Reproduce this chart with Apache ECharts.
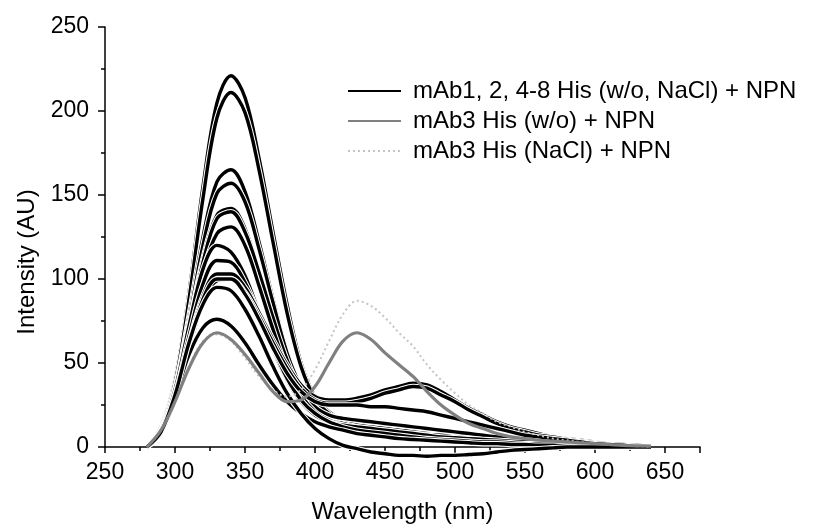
<!DOCTYPE html>
<html>
<head>
<meta charset="utf-8">
<script src="https://cdn.jsdelivr.net/npm/echarts@6/dist/echarts.min.js"></script>
<style>
html,body{margin:0;padding:0;background:#fff;}
#chart{width:818px;height:529px;}
</style>
</head>
<body>
<div id="chart"></div>
<script>
// Wavelength grid (nm)
const wavelengths = [280,290,300,310,320,330,340,350,360,370,380,390,400,410,420,430,440,450,460,470,480,490,500,510,520,530,540,550,560,570,580,590,600,610,620,630,640];

// mAb1, 2, 4-8 His (w/o, NaCl) + NPN : 14 spectra
const mAbA = [0,12,40,92,155,205,221,208,172,128,85,50,30,21,16,14,12,11,10,10,9,8,7,6,5,5,4,4,3,3,2,2,1.5,1,1,0.5,0.3];
const mAbB = [0,11,38,88,148,196,211,199,165,122,80,48,29,20,16,13,11,10,9,8.5,8,7,6,5.5,5,4,4,3,3,2,2,1.5,1,1,0.5,0.3,0.2];
const mAbC = [0,10,35,78,125,158,165,152,122,88,57,35,22,16,13,11,10,9,8,7,6.5,6,5,4.5,4,3.5,3,3,2.5,2,1.5,1,1,0.5,0.5,0.3,0.2];
const mAbD = [0,10,34,75,120,151,157,146,118,86,56,36,24,18,15,13,12,11,10,9,8,7,6.5,6,5,4.5,4,3.5,3,2.5,2,1.5,1,1,0.5,0.3,0.2];
const mAbE = [0,10,33,72,112,138,142,130,104,75,49,31,21,16,14,12,11,10,9,8,7.5,7,6,5.5,5,4.5,4,3.5,3,2.5,2,1.5,1,1,0.5,0.3,0.2];
const mAbF = [0,9,32,70,110,136,140,128,104,77,52,34,24,19,17,16,15,14,13,12,11,10,9,8,7,6,5,4.5,4,3,2.5,2,1.5,1,0.5,0.3,0.2];
const mAbG = [0,9,31,67,104,127,131,120,96,70,47,31,21,16,13,11,10,9,8,7,6,5.5,5,4.5,4,3.5,3,2.5,2,2,1.5,1,1,0.5,0.5,0.3,0.2];
const mAbH = [0,10,34,72,106,120,116,102,80,58,40,27,19,15,13,12,11,10,9,8,7,6,5.5,5,4.5,4,3.5,3,2.5,2,1.5,1,1,0.5,0.5,0.3,0.2];
const mAbI = [0,9,31,66,97,111,110,98,79,59,41,28,20,15,12,10,9,8,7,6,5,4.5,4,3.5,3,3,2.5,2,2,1.5,1,1,0.5,0.5,0.3,0.2,0.1];
const mAbJ = [0,9,30,62,90,103,103,95,80,64,49,37,30,28,28,29,31,34,36,38,37,33,28,23,19,15,12,10,8,6,5,4,3,2,1.5,1,0.5];
const mAbK = [0,8,28,58,86,99,100,92,78,62,47,35,28,26,26,27,29,32,34,36,35,31,27,22,18,14,11,9,7,6,4.5,3.5,2.5,2,1.5,1,0.5];
const mAbL = [0,8,29,60,88,100,100,91,76,59,44,33,27,25,25,25,24,24,23,22,21,19,17,15,13,11,9,7,6,5,4,3,2,1.5,1,0.5,0.3];
const mAbM = [0,9,30,55,71,76,72,62,49,37,27,20,15,12,10,8,7,6,5,4.5,4,3.5,3,2.5,2,2,1.5,1.5,1,1,0.5,0.5,0.3,0.2,0.1,0.1,0];
const mAbN = [0,9,31,62,85,95,93,82,66,48,32,20,11,5,1,-1,-3,-4,-5,-5,-5.5,-5,-5,-4.5,-4,-3,-2,-1.5,-1,-0.5,0,0,0,0,0,0,0];
const blackCurves = [mAbA,mAbB,mAbC,mAbD,mAbE,mAbF,mAbG,mAbH,mAbI,mAbJ,mAbK,mAbL,mAbM,mAbN];

// mAb3 His (w/o) + NPN
const mAb3Wo = [0,10,27,47,62,68,64,55,44,33,27,28,36,50,63,68,64,56,49,42,33,25,19,14,11,8,6,5,4,3.5,3,2.5,2,1.5,1,0.7,0.5];
// mAb3 His (NaCl) + NPN
const mAb3NaCl = [0,10,27,48,63,67,63,53,42,34,30,34,46,63,79,87,84,77,68,60,49,40,32,25,20,15,12,9,7,5,4,3,2,1.5,1,0.5,0.3];

const legendNames = ['mAb1, 2, 4-8 His (w/o, NaCl) + NPN', 'mAb3 His (w/o) + NPN', 'mAb3 His (NaCl) + NPN'];

function pairs(arr){ return wavelengths.map((w,i)=>[w,arr[i]]); }

const FONT = '"Liberation Sans", Arial, sans-serif';
const series = [];
blackCurves.forEach((c,i)=>{
  series.push({type:'line', name:'_under'+i, data:pairs(c), symbol:'none', smooth:0.35, clip:false, silent:true,
    lineStyle:{color:'#ffffff', width:5.5}, z:2});
  series.push({type:'line', name:legendNames[0], data:pairs(c), symbol:'none', smooth:0.35, clip:false,
    lineStyle:{color:'#000000', width:3.4}, itemStyle:{color:'#000000'}, z:2});
});
series.push({type:'line', name:legendNames[2], data:pairs(mAb3NaCl), symbol:'none', smooth:0.35,
  lineStyle:{color:'#c4c4c4', width:2, type:[2,3]}, itemStyle:{color:'#c4c4c4'}, z:3});
series.push({type:'line', name:legendNames[1], data:pairs(mAb3Wo), symbol:'none', smooth:0.35,
  lineStyle:{color:'#808080', width:3.2}, itemStyle:{color:'#808080'}, z:3});

const chart = echarts.init(document.getElementById('chart'), null, {renderer:'canvas'});
chart.setOption({
  animation:false,
  backgroundColor:'#ffffff',
  textStyle:{fontFamily:FONT},
  grid:{left:105, right:118, top:27, bottom:81},
  legend:{
    data:legendNames, orient:'vertical', left:347, top:79, padding:0,
    itemWidth:53, itemHeight:14, itemGap:6,
    itemStyle:{opacity:0},
    textStyle:{fontFamily:FONT, fontSize:24, color:'#000', lineHeight:22, padding:[0,0,0,7]}
  },
  xAxis:{
    type:'value', min:250, max:675, interval:50,
    name:'Wavelength (nm)', nameLocation:'middle', nameGap:53,
    nameTextStyle:{fontFamily:FONT, fontSize:24, color:'#000'},
    axisLine:{lineStyle:{color:'#000', width:1.5}},
    axisTick:{length:6, lineStyle:{color:'#000', width:1.5}},
    minorTick:{show:true, splitNumber:2, length:4, lineStyle:{color:'#000', width:1.5}},
    axisLabel:{fontFamily:FONT, fontSize:23, color:'#000', margin:14},
    splitLine:{show:false}
  },
  yAxis:{
    type:'value', min:0, max:250, interval:50,
    name:'Intensity (AU)', nameLocation:'middle', nameGap:66, nameRotate:90,
    nameTextStyle:{fontFamily:FONT, fontSize:24, color:'#000', padding:[0,50,0,0]},
    axisLine:{show:true, lineStyle:{color:'#000', width:1.5}},
    axisTick:{show:true, length:7, lineStyle:{color:'#000', width:1.5}},
    minorTick:{show:true, splitNumber:2, length:4, lineStyle:{color:'#000', width:1.5}},
    axisLabel:{fontFamily:FONT, fontSize:23, color:'#000', margin:16},
    splitLine:{show:false}
  },
  series:series
});
</script>
</body>
</html>
